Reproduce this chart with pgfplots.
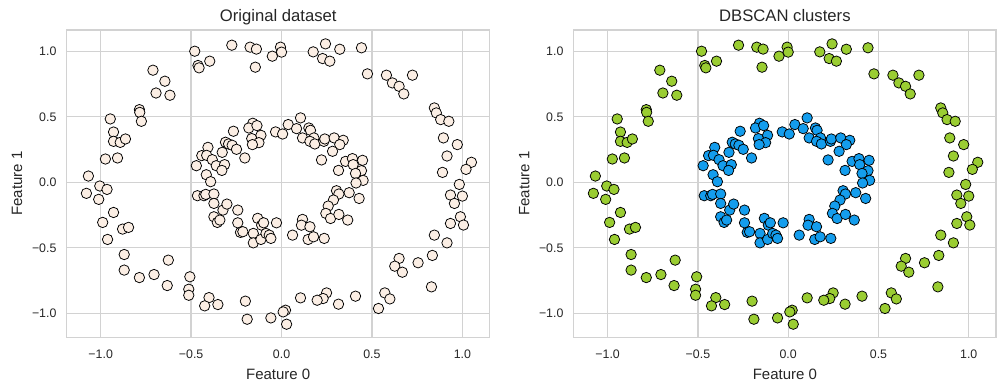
\documentclass[border=0pt]{standalone}
\usepackage{pgfplots}
\usepackage{pgfplotstable}
\usepackage{fontspec}
\setmainfont{Liberation Sans}
\pgfplotsset{compat=1.18}
\definecolor{txt}{RGB}{38,38,38}
\definecolor{gridc}{RGB}{210,210,210}
\definecolor{cream}{RGB}{251,238,228}
\definecolor{grn}{RGB}{154,205,50}
\definecolor{blu}{RGB}{20,157,237}

\pgfplotstableread{
x y
-0.480 1.001
-0.462 0.892
-0.456 0.874
-0.397 0.925
-0.275 1.047
-0.174 1.032
-0.139 1.017
-0.145 0.879
-0.051 0.963
-0.711 0.856
-0.645 0.772
-0.694 0.682
-0.617 0.665
-0.786 0.555
-0.784 0.534
-0.775 0.466
-0.947 0.484
-0.929 0.384
-0.929 0.313
-0.892 0.305
-0.863 0.331
-0.974 0.178
-0.907 0.186
-1.068 0.048
-0.006 1.032
0.000 0.994
0.175 0.996
0.243 1.057
0.227 0.945
0.267 0.925
0.322 1.016
0.442 1.027
0.475 0.828
0.580 0.818
0.613 0.759
0.650 0.733
0.676 0.675
0.724 0.818
0.845 0.568
0.856 0.530
0.880 0.479
0.925 0.466
0.895 0.339
0.972 0.288
0.915 0.201
1.050 0.153
1.020 0.099
0.890 0.076
0.983 -0.016
0.934 -0.097
1.000 -0.105
0.956 -0.161
0.989 -0.263
0.934 -0.314
1.006 -0.326
0.845 -0.403
0.915 -0.462
0.834 -0.558
0.755 -0.614
0.650 -0.581
0.626 -0.640
0.668 -0.686
0.829 -0.798
0.571 -0.844
0.599 -0.890
0.536 -0.963
0.409 -0.869
0.315 -0.930
0.249 -0.844
0.230 -0.887
0.197 -0.900
0.105 -0.882
0.022 -0.976
0.009 -0.989
0.028 -1.083
-1.005 -0.028
-0.965 -0.054
-1.079 -0.084
-1.011 -0.130
-0.929 -0.230
-0.989 -0.306
-0.879 -0.357
-0.846 -0.344
-0.962 -0.436
-0.870 -0.551
-0.626 -0.594
-0.870 -0.670
-0.786 -0.727
-0.705 -0.704
-0.632 -0.788
-0.507 -0.721
-0.513 -0.816
-0.513 -0.862
-0.401 -0.880
-0.425 -0.943
-0.352 -0.933
-0.200 -0.907
-0.190 -1.045
-0.059 -1.035
}\outer

\pgfplotstableread{
x y
-0.266 0.390
-0.159 0.451
-0.181 0.415
-0.136 0.433
-0.114 0.359
-0.165 0.334
-0.125 0.303
-0.161 0.288
-0.033 0.385
0.006 0.369
-0.310 0.306
-0.293 0.293
-0.273 0.283
-0.249 0.252
-0.328 0.229
-0.407 0.267
-0.441 0.204
-0.414 0.206
-0.383 0.173
-0.203 0.186
-0.471 0.127
-0.361 0.127
-0.315 0.135
-0.330 0.091
-0.416 0.058
-0.392 0.005
0.037 0.441
0.105 0.492
0.083 0.410
0.151 0.415
0.160 0.397
0.116 0.339
0.179 0.339
0.157 0.313
0.184 0.293
0.234 0.313
0.239 0.331
0.291 0.339
0.341 0.321
0.322 0.288
0.282 0.237
0.221 0.171
0.354 0.160
0.392 0.181
0.448 0.168
0.315 0.091
0.396 0.135
0.442 0.089
0.409 0.068
0.451 0.015
0.412 -0.005
0.304 -0.064
0.374 -0.079
0.317 -0.089
0.287 -0.135
0.429 -0.123
0.258 -0.181
0.245 -0.237
0.271 -0.276
0.317 -0.245
0.366 -0.288
0.116 -0.283
0.110 -0.327
0.157 -0.339
0.061 -0.403
0.147 -0.436
0.177 -0.416
0.236 -0.428
-0.028 -0.309
-0.465 -0.102
-0.429 -0.102
-0.419 -0.092
-0.374 -0.089
-0.374 -0.161
-0.324 -0.212
-0.302 -0.166
-0.242 -0.212
-0.374 -0.263
-0.355 -0.306
-0.341 -0.288
-0.242 -0.309
-0.227 -0.382
-0.214 -0.377
-0.132 -0.275
-0.110 -0.327
-0.099 -0.309
-0.156 -0.390
-0.156 -0.462
-0.114 -0.436
-0.086 -0.390
-0.068 -0.403
-0.059 -0.428
}\inner

\pgfplotsset{
  panel/.style={
    scale only axis,
    width=304.56pt, height=221.26pt,
    anchor=south west,
    xmin=-1.188, xmax=1.151,
    ymin=-1.183, ymax=1.163,
    axis line style={gridc, line width=1.0pt},
    grid=major,
    major grid style={gridc, line width=0.9pt},
    major tick length=0pt,
    xtick={-1,-0.5,0,0.5,1},
    ytick={-1,-0.5,0,0.5,1},
    xticklabels={−1.0,−0.5,0.0,0.5,1.0},
    yticklabels={−1.0,−0.5,0.0,0.5,1.0},
    tick label style={font=\fontsize{8.9}{10}\selectfont, text=txt, inner sep=0pt},
    xticklabel style={anchor=north, yshift=-8.6pt},
    yticklabel style={anchor=east, xshift=-7.2pt},
    xlabel={Feature 0},
    ylabel={Feature 1},
    label style={font=\fontsize{10.8}{12}\selectfont, text=txt, inner sep=0pt},
    xlabel style={at={(axis description cs:0.5,0)}, anchor=north, yshift=-22.3pt},
    ylabel style={at={(axis description cs:0,0.5)}, anchor=south, yshift=31.7pt},
    every axis title shift=0pt,
    title style={font=\fontsize{12}{14}\selectfont, text=txt, inner sep=0pt, at={(axis description cs:0.5,1)}, anchor=base, yshift=6pt},
  },
  pts/.style={only marks, mark=*, mark size=3.75pt, mark options={draw=black, line width=0.55pt, fill=#1}},
}

\begin{document}
\begin{tikzpicture}
\path[use as bounding box] (0,0) rectangle (724.32pt,280.08pt);
\begin{axis}[panel, at={(48.02pt,37.22pt)}, title={Original dataset}]
\addplot[pts=cream] table[x=x,y=y] {\outer};
\addplot[pts=cream] table[x=x,y=y] {\inner};
\end{axis}
\begin{axis}[panel, at={(413.06pt,37.22pt)}, width=304.06pt, title={DBSCAN clusters}]
\addplot[pts=grn] table[x=x,y=y] {\outer};
\addplot[pts=blu] table[x=x,y=y] {\inner};
\end{axis}
\end{tikzpicture}
\end{document}
